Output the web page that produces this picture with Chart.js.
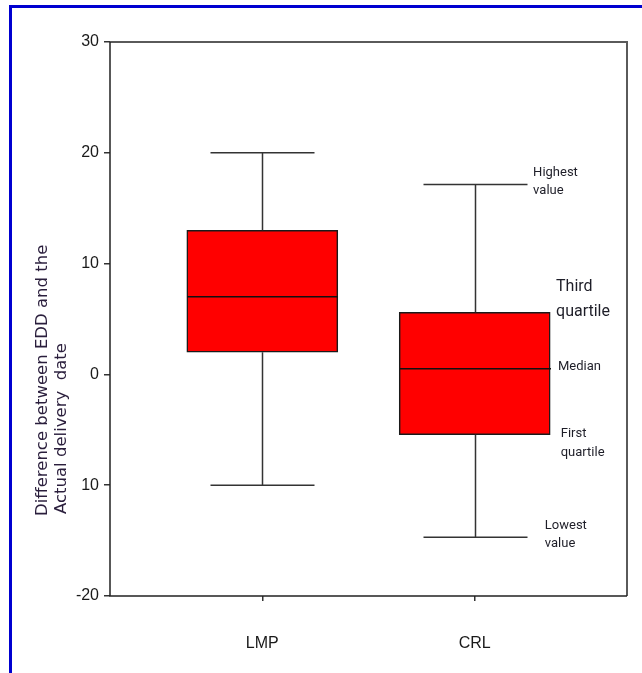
<!DOCTYPE html>
<html>
<head>
<meta charset="utf-8">
<script src="https://cdn.jsdelivr.net/npm/chart.js@4.4.1/dist/chart.umd.min.js"></script>
<style>
  html, body { margin: 0; padding: 0; background: #fff; overflow: hidden; }
  #wrap { position: relative; width: 642px; height: 673px; }
  #marco {
    position: absolute; left: 9px; top: 5px; width: 700px; height: 700px;
    border-left: 3px solid #0000d0; border-top: 3px solid #0000d0;
    pointer-events: none;
  }
  canvas { position: absolute; left: 0; top: 0; }
</style>
</head>
<body>
<div id="wrap">
  <canvas id="grafico" width="642" height="673"></canvas>
  <div id="marco"></div>
</div>
<script>
// =====================
// Datos
// =====================
const categorias = ["LMP", "CRL"];
const minimos = [-10, -14.7];
const cuartil1 = [2, -5.45];
const medianas = [7, 0.5];
const cuartil3 = [13, 5.6];
const maximos = [20, 17.15];

const yTicks = [-20, -10, 0, 10, 20, 30];
const yTickLabels = ["-20", "10", "0", "10", "20", "30"];

const tituloY = ["Difference between EDD and the", "Actual delivery  date"];

// anotaciones en coordenadas de datos (x, y)
const notas = [
  { lineas: ["Highest", "value"], x: 2.275, y: 18.2, size: 13, alto: 18 },
  { lineas: ["Third", "quartile"], x: 2.383, y: 7.85, size: 16, alto: 25 },
  { lineas: ["Median"], x: 2.392, y: 0.65, size: 13, alto: 18 },
  { lineas: ["First", "quartile"], x: 2.405, y: -5.35, size: 13, alto: 19 },
  { lineas: ["Lowest", "value"], x: 2.33, y: -13.65, size: 13, alto: 18 }
];

// =====================
// Plugin: bigotes, medianas, marco y textos
// =====================
const cajaPlugin = {
  id: "cajas",
  afterDatasetsDraw(chart) {
    const ctx = chart.ctx;
    const xs = chart.scales.x;
    const ys = chart.scales.y;
    const area = chart.chartArea;
    const mitadCaja = 75.5;
    const mitadTope = 52;

    ctx.save();
    ctx.strokeStyle = "#333";
    ctx.lineWidth = 1.5;
    categorias.forEach((c, i) => {
      const xc = Math.round(xs.getPixelForValue(i + 1)) + 0.5;
      const yMax = ys.getPixelForValue(maximos[i]);
      const yMin = ys.getPixelForValue(minimos[i]);
      const yQ1 = ys.getPixelForValue(cuartil1[i]);
      const yQ3 = ys.getPixelForValue(cuartil3[i]);
      const yMed = ys.getPixelForValue(medianas[i]);
      ctx.beginPath();
      ctx.moveTo(xc, yQ3); ctx.lineTo(xc, yMax);
      ctx.moveTo(xc - mitadTope, yMax); ctx.lineTo(xc + mitadTope, yMax);
      ctx.moveTo(xc, yQ1); ctx.lineTo(xc, yMin);
      ctx.moveTo(xc - mitadTope, yMin); ctx.lineTo(xc + mitadTope, yMin);
      ctx.stroke();
      ctx.beginPath();
      ctx.strokeStyle = "#111";
      ctx.moveTo(xc - mitadCaja, yMed); ctx.lineTo(xc + mitadCaja, yMed);
      ctx.stroke();
      ctx.strokeStyle = "#333";
    });

    // marco del area
    ctx.lineWidth = 2;
    ctx.strokeStyle = "#5a5a5a";
    ctx.beginPath();
    ctx.moveTo(area.left, area.top); ctx.lineTo(area.right, area.top);
    ctx.lineTo(area.right, area.bottom);
    ctx.stroke();
    ctx.lineWidth = 1.5;
    ctx.strokeStyle = "#222";
    ctx.beginPath();
    ctx.moveTo(area.left, area.top); ctx.lineTo(area.left, area.bottom);
    ctx.lineTo(area.right, area.bottom);
    ctx.stroke();

    // anotaciones
    ctx.fillStyle = "#1e1e28";
    ctx.textAlign = "left";
    ctx.textBaseline = "middle";
    notas.forEach(n => {
      ctx.font = n.size + "px Roboto, 'Open Sans', sans-serif";
      const px = xs.getPixelForValue(n.x);
      const py = ys.getPixelForValue(n.y);
      n.lineas.forEach((l, k) => ctx.fillText(l, px, py + k * n.alto));
    });

    // titulo del eje Y
    ctx.font = "16.5px 'DejaVu Sans', sans-serif";
    ctx.fillStyle = "#2a1e3c";
    ctx.translate(43, 516);
    ctx.rotate(-Math.PI / 2);
    ctx.fillText(tituloY[0], 0, 0);
    ctx.fillText(tituloY[1], 2, 19);
    ctx.restore();
  }
};

// =====================
// Grafico
// =====================
const fuenteEje = { family: "'Liberation Sans Narrow', 'Liberation Sans', Arial, sans-serif", size: 16 };

new Chart(document.getElementById("grafico"), {
  type: "bar",
  data: {
    datasets: [{
      data: categorias.map((c, i) => ({ x: i + 1, y: [cuartil1[i], cuartil3[i]] })),
      backgroundColor: "#ff0000",
      borderColor: "#1a1a1a",
      borderWidth: 1.5,
      borderSkipped: false,
      barThickness: 151
    }]
  },
  options: {
    responsive: false,
    animation: false,
    devicePixelRatio: 1,
    layout: { padding: { top: 42, right: 15, left: 0, bottom: 0 } },
    plugins: {
      legend: { display: false },
      tooltip: { enabled: false },
      title: { display: false }
    },
    scales: {
      x: {
        type: "linear",
        min: 0.283,
        max: 2.717,
        offset: false,
        afterBuildTicks: axis => { axis.ticks = categorias.map((c, i) => ({ value: i + 1 })); },
        afterFit: scale => { scale.height = 77; },
        ticks: {
          callback: v => categorias[v - 1] || "",
          color: "#1a1a1a",
          font: fuenteEje,
          padding: 33,
          maxRotation: 0
        },
        grid: { offset: false, drawOnChartArea: false, drawTicks: true, tickLength: 5, color: "#333", lineWidth: 1.5 },
        border: { display: false }
      },
      y: {
        min: -20,
        max: 30,
        afterBuildTicks: axis => { axis.ticks = yTicks.map(v => ({ value: v })); },
        afterFit: scale => { scale.width = 110; },
        ticks: {
          callback: (v, i) => yTickLabels[i],
          color: "#1a1a1a",
          font: fuenteEje,
          padding: 5
        },
        grid: { drawOnChartArea: false, drawTicks: true, tickLength: 6, color: "#333", lineWidth: 1.5 },
        border: { display: false }
      }
    }
  },
  plugins: [cajaPlugin]
});
</script>
</body>
</html>
